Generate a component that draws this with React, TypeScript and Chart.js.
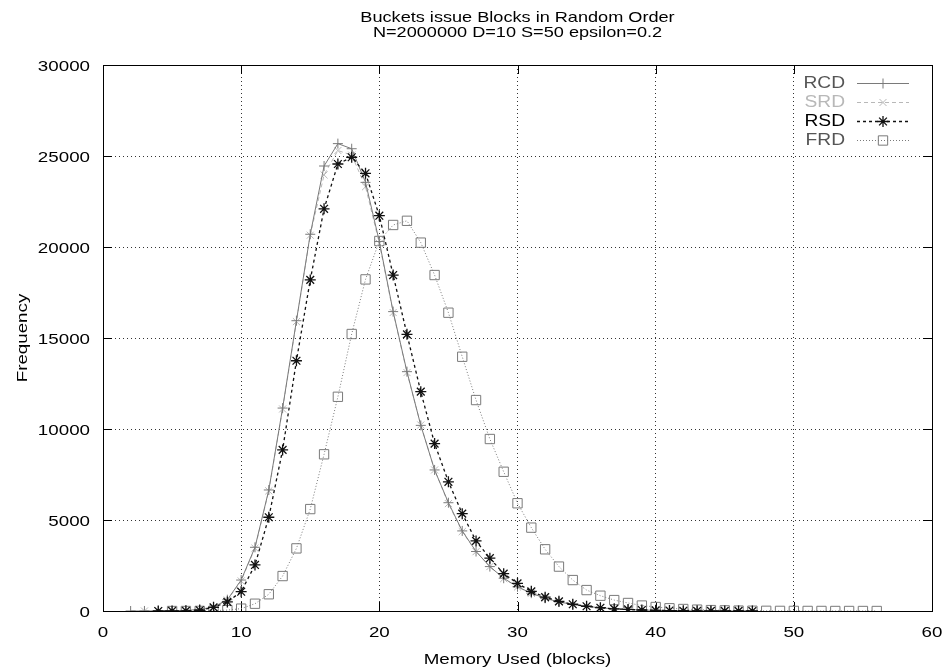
import React, { useEffect, useRef } from 'react';
import { Chart, registerables } from 'chart.js';

Chart.register(...registerables);

const TITLE_LINES = ['Buckets issue Blocks in Random Order', 'N=2000000 D=10 S=50 epsilon=0.2'];
const X_TITLE = 'Memory Used (blocks)';
const Y_TITLE = 'Frequency';

const RCD_START = 2;
const rcdValues = [0, 1, 3, 10, 30, 90, 220, 620, 1700, 3500, 6650, 11150, 15950, 20700, 24450, 25680, 25400, 23550, 20300, 16450, 13150, 10200, 7750, 5950, 4400, 3270, 2440, 1800, 1330, 980, 700, 500, 360, 250, 180, 120, 80, 55, 35, 25, 15, 10, 6, 4, 2, 1];

const SRD_START = 3;
const srdValues = [0, 2, 8, 28, 85, 210, 600, 1650, 3450, 6600, 11100, 15900, 20650, 23960, 25300, 25050, 23310, 20200, 16400, 13100, 10220, 7750, 5900, 4360, 3260, 2440, 1780, 1320, 970, 700, 500, 360, 250, 175, 120, 80, 55, 35, 25, 15, 10, 6, 4, 2, 1];

const RSD_START = 4;
const rsdValues = [0, 2, 8, 40, 200, 500, 1060, 2530, 5150, 8850, 13750, 18190, 22100, 24560, 24930, 24050, 21720, 18460, 15200, 12050, 9200, 7100, 5350, 3850, 2900, 2050, 1520, 1080, 760, 530, 370, 260, 180, 120, 85, 55, 35, 25, 15, 10, 6, 4, 2, 1];

const FRD_START = 5;
const frdValues = [0, 0, 5, 20, 50, 130, 400, 920, 1920, 3440, 5600, 8610, 11770, 15220, 18220, 20330, 21210, 21440, 20240, 18460, 16390, 13970, 11590, 9450, 7650, 5920, 4580, 3390, 2440, 1700, 1150, 840, 600, 440, 300, 220, 150, 110, 75, 50, 35, 22, 15, 10, 6, 4, 3, 2, 1, 1, 0, 0];

const seriesNames = ['RCD', 'SRD', 'RSD', 'FRD'];

const X_MIN = 0, X_MAX = 60, X_STEP = 10;
const Y_MIN = 0, Y_MAX = 30000, Y_STEP = 5000;

const FONT = "'Liberation Sans', Arial, Helvetica, sans-serif";
const SX = 1.25;

const toPoints = (start: number, vals: number[]) => vals.map((v, i) => ({ x: start + i, y: v }));

const STYLES = [
  { line: '#7a7a7a', text: '#555555', marker: 'cross', dash: [] as number[], radius: 5, width: 1 },
  { line: '#b8b8b8', text: '#b8b8b8', marker: 'crossRot', dash: [4, 3], radius: 5, width: 1 },
  { line: '#111111', text: '#000000', marker: 'star', dash: [3, 3], radius: 5.5, width: 1.3 },
  { line: '#7a7a7a', text: '#555555', marker: 'rect', dash: [1, 2], radius: 6.6, width: 1 },
];

function drawMarker(ctx: CanvasRenderingContext2D, style: string, x: number, y: number, r: number) {
  ctx.beginPath();
  const d = r * Math.SQRT1_2;
  if (style === 'cross' || style === 'star') {
    ctx.moveTo(x - r, y); ctx.lineTo(x + r, y);
    ctx.moveTo(x, y - r); ctx.lineTo(x, y + r);
  }
  if (style === 'crossRot' || style === 'star') {
    ctx.moveTo(x - d, y - d); ctx.lineTo(x + d, y + d);
    ctx.moveTo(x - d, y + d); ctx.lineTo(x + d, y - d);
  }
  if (style === 'rect') {
    ctx.rect(x - d, y - d, 2 * d, 2 * d);
  }
  ctx.stroke();
}

function text(ctx: CanvasRenderingContext2D, s: string, x: number, y: number, align: CanvasTextAlign, size: number, color: string, sx = SX, rot = 0) {
  ctx.save();
  ctx.translate(x, y);
  if (rot) ctx.rotate(rot);
  ctx.scale(sx, 1);
  ctx.font = `${size}px ${FONT}`;
  ctx.fillStyle = color;
  ctx.textAlign = align;
  ctx.textBaseline = 'alphabetic';
  ctx.fillText(s, 0, 0);
  ctx.restore();
}

const decorPlugin = {
  id: 'decor',
  beforeDatasetsDraw(chart: any) {
    const { ctx, chartArea } = chart;
    const { left, right, top, bottom } = chartArea;
    const xs = chart.scales.x, ys = chart.scales.y;
    ctx.save();
    ctx.strokeStyle = '#000';
    ctx.lineWidth = 1;
    ctx.setLineDash([]);
    ctx.strokeRect(Math.round(left) + 0.5, Math.round(top) + 0.5, Math.round(right - left), Math.round(bottom - top));
    const tl = 9;
    ctx.beginPath();
    for (let v = X_MIN + X_STEP; v < X_MAX; v += X_STEP) {
      const px = Math.round(xs.getPixelForValue(v)) + 0.5;
      ctx.moveTo(px, bottom); ctx.lineTo(px, bottom - tl);
      ctx.moveTo(px, top); ctx.lineTo(px, top + tl);
    }
    for (let v = Y_MIN + Y_STEP; v < Y_MAX; v += Y_STEP) {
      const py = Math.round(ys.getPixelForValue(v)) + 0.5;
      ctx.moveTo(left, py); ctx.lineTo(left + tl, py);
      ctx.moveTo(right, py); ctx.lineTo(right - tl, py);
    }
    ctx.stroke();
    ctx.restore();
  },
  afterDraw(chart: any) {
    const { ctx, chartArea } = chart;
    const xs = chart.scales.x, ys = chart.scales.y;
    const cx = (chartArea.left + chartArea.right) / 2;
    const cy = (chartArea.top + chartArea.bottom) / 2;
    // Title
    TITLE_LINES.forEach((t, i) => text(ctx, t, cx, 22 + i * 15, 'center', 14.5, '#000'));
    // Tick labels
    xs.ticks.forEach((t: any) => {
      text(ctx, String(t.value), xs.getPixelForValue(t.value), chartArea.bottom + 26, 'center', 15, '#000');
    });
    ys.ticks.forEach((t: any) => {
      text(ctx, String(t.value), chartArea.left - 13, ys.getPixelForValue(t.value) + 5.5, 'right', 15, '#000');
    });
    // Axis titles
    text(ctx, X_TITLE, cx, 664, 'center', 15, '#000');
    text(ctx, Y_TITLE, 27, cy, 'center', 15, '#000', SX, -Math.PI / 2);
    // Legend
    const textRight = chartArea.right - 87;
    const lineL = chartArea.right - 75;
    const lineR = chartArea.right - 23;
    const y0 = chartArea.top + 18;
    ctx.save();
    seriesNames.forEach((name, i) => {
      const s = STYLES[i];
      const y = Math.round(y0 + i * 19) + 0.5;
      text(ctx, name, textRight, y + 4.5, 'right', 16, s.text, 1.2);
      ctx.strokeStyle = s.line;
      ctx.lineWidth = s.width;
      ctx.setLineDash(s.dash);
      ctx.beginPath();
      ctx.moveTo(lineL, y);
      ctx.lineTo(lineR, y);
      ctx.stroke();
      ctx.setLineDash([]);
      drawMarker(ctx, s.marker, (lineL + lineR) / 2, y, s.radius);
    });
    ctx.restore();
  },
};

export default function App() {
  const canvasRef = useRef<HTMLCanvasElement | null>(null);

  useEffect(() => {
    const canvas = canvasRef.current;
    if (!canvas) return;
    const all = [
      toPoints(RCD_START, rcdValues),
      toPoints(SRD_START, srdValues),
      toPoints(RSD_START, rsdValues),
      toPoints(FRD_START, frdValues),
    ];
    const chart = new Chart(canvas, {
      type: 'line',
      data: {
        datasets: seriesNames.map((name, i) => ({
          label: name,
          data: all[i],
          borderColor: STYLES[i].line,
          borderWidth: STYLES[i].width,
          borderDash: STYLES[i].dash,
          pointStyle: STYLES[i].marker as any,
          pointRadius: STYLES[i].radius,
          pointBorderColor: STYLES[i].line,
          pointBackgroundColor: 'rgba(0,0,0,0)',
          pointBorderWidth: STYLES[i].width,
          tension: 0,
          fill: false,
          order: [2, 3, 1, 4][i],
        })),
      },
      options: {
        responsive: false,
        animation: false,
        layout: { padding: { top: 65, right: 14, left: 0, bottom: 0 } },
        plugins: {
          legend: { display: false },
          title: { display: false },
          tooltip: { enabled: false },
        },
        scales: {
          x: {
            type: 'linear',
            min: X_MIN,
            max: X_MAX,
            afterFit: (s: any) => { s.height = 61; s.paddingLeft = 0; s.paddingRight = 0; },
            ticks: { stepSize: X_STEP, display: false },
            grid: { color: '#333', lineWidth: 1, drawTicks: false },
            border: { display: false, dash: [1, 3] },
            title: { display: false },
          },
          y: {
            type: 'linear',
            min: Y_MIN,
            max: Y_MAX,
            afterFit: (s: any) => { s.width = 103; s.paddingTop = 0; s.paddingBottom = 0; },
            ticks: { stepSize: Y_STEP, display: false },
            grid: { color: '#333', lineWidth: 1, drawTicks: false },
            border: { display: false, dash: [1, 3] },
            title: { display: false },
          },
        },
      },
      plugins: [decorPlugin],
    });
    return () => chart.destroy();
  }, []);

  return (
    <div style={{ position: 'absolute', left: 0, top: 0, width: 946, height: 672, background: '#fff' }}>
      <canvas ref={canvasRef} width={946} height={672} style={{ display: 'block' }} />
    </div>
  );
}
